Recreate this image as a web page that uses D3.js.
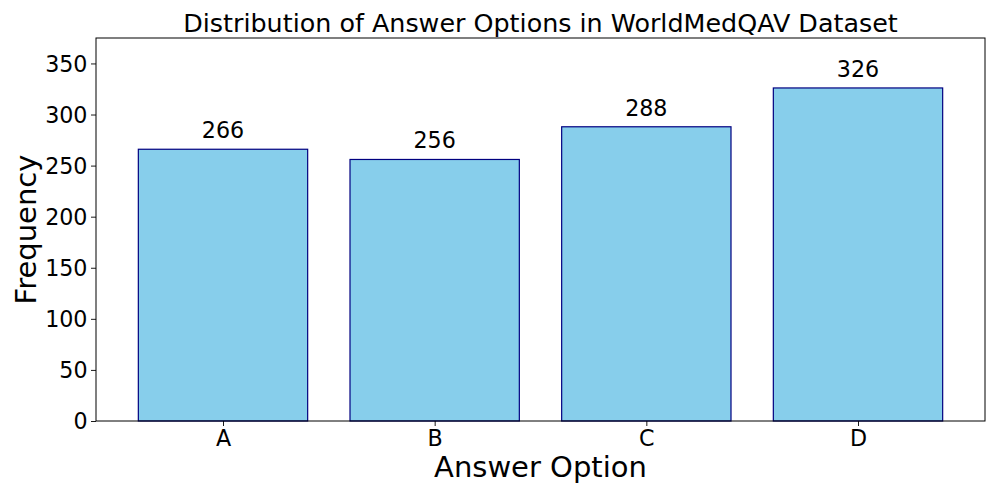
<!DOCTYPE html>
<html><head><meta charset="utf-8">
<script src="https://cdn.jsdelivr.net/npm/d3@7"></script>
<style>body{margin:0;background:#fff}text{font-family:"DejaVu Sans",sans-serif;fill:#000}</style>
</head><body>
<svg id="c" width="997" height="498"></svg>
<script>
const categories = ["A","B","C","D"];
const frequencies = [266,256,288,326];
const yTicks = [0,50,100,150,200,250,300,350];
const titleText = "Distribution of Answer Options in WorldMedQAV Dataset";
const xLabel = "Answer Option";
const yLabel = "Frequency";

const svg = d3.select("#c");
const L=96, R=985, T=38, B=421;
const x = d3.scaleLinear().domain([-0.6, categories.length-1+0.6]).range([L,R]);
const y = d3.scaleLinear().domain([0, d3.max(frequencies)*1.15]).range([B,T]);
const bw = x(0.8)-x(0);

svg.append("g").selectAll("rect").data(frequencies).join("rect")
  .attr("x",(d,i)=>x(i)-bw/2).attr("y",d=>y(d))
  .attr("width",bw).attr("height",d=>B-y(d))
  .attr("fill","#87ceeb").attr("stroke","#000080").attr("stroke-width",1.2);

svg.append("g").selectAll("text").data(frequencies).join("text")
  .attr("x",(d,i)=>x(i)).attr("y",d=>y(d)-11)
  .attr("text-anchor","middle").attr("font-size",22.2).text(d=>d);

const yAxis = svg.append("g").attr("transform",`translate(${L},0)`)
  .call(d3.axisLeft(y).tickValues(yTicks).tickSize(5).tickPadding(3.5));
yAxis.selectAll("text").attr("font-size",22.2).attr("font-family","DejaVu Sans").attr("dy","0.35em");
const xAxis = svg.append("g").attr("transform",`translate(0,${B})`)
  .call(d3.axisBottom(x).tickValues(d3.range(categories.length)).tickFormat(i=>categories[i]).tickSize(5).tickPadding(4.5));
xAxis.selectAll("text").attr("font-size",22.2).attr("font-family","DejaVu Sans");
[yAxis,xAxis].forEach(a=>{a.select(".domain").remove();a.selectAll("line").attr("stroke","#000").attr("stroke-width",0.9);});

svg.append("rect").attr("x",L).attr("y",T).attr("width",R-L).attr("height",B-T)
  .attr("fill","none").attr("stroke","#000").attr("stroke-width",1);

svg.append("text").attr("x",(L+R)/2).attr("y",32).attr("text-anchor","middle").attr("font-size",25.4).text(titleText);
svg.append("text").attr("x",(L+R)/2).attr("y",477).attr("text-anchor","middle").attr("font-size",29).text(xLabel);
svg.append("text").attr("transform",`translate(36,${(T+B)/2}) rotate(-90)`).attr("text-anchor","middle").attr("font-size",29).text(yLabel);
</script>
</body></html>
